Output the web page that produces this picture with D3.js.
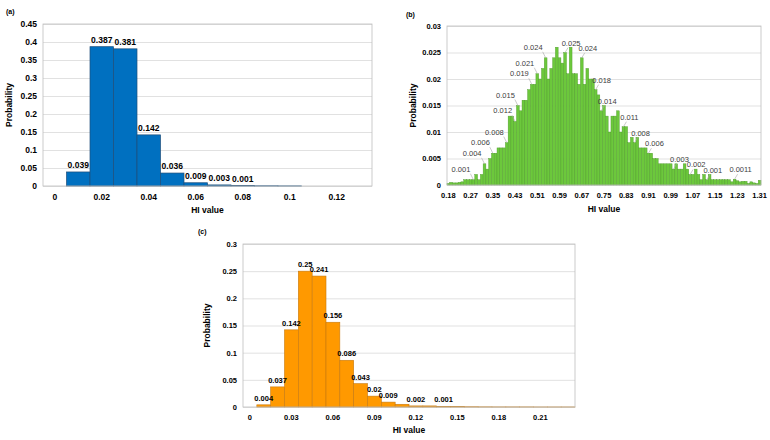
<!DOCTYPE html>
<html>
<head>
<meta charset="utf-8">
<script src="https://cdn.jsdelivr.net/npm/d3@7"></script>
<style>
  body { margin: 0; background: #fff; }
  text { font-family: "Liberation Sans", Arial, sans-serif; }
</style>
</head>
<body>
<svg id="chart" width="770" height="440"></svg>
<script>
//<data (a)>-----------------------------------//
var catsA = [0, 0.01, 0.02, 0.03, 0.04, 0.05, 0.06, 0.07, 0.08, 0.09, 0.1, 0.11, 0.12, 0.13];
var valsA = [0, 0.039, 0.387, 0.381, 0.142, 0.036, 0.009, 0.003, 0.001, 0.0006, 0.0003, 0, 0, 0];
var labelsA = [1, 2, 3, 4, 5, 6, 7, 8];
var xTicksA = ["0", "0.02", "0.04", "0.06", "0.08", "0.1", "0.12"];
var yTicksA = [0, 0.05, 0.1, 0.15, 0.2, 0.25, 0.3, 0.35, 0.4, 0.45];

//<data (b)>-----------------------------------//
var valsB = [
    0.0003, 0.0005, 0.0004, 0.0004, 0.0005, 0.0006, 0.001, 0.001, 0.001, 0.001,
    0.002, 0.001, 0.002, 0.004, 0.003, 0.005, 0.006, 0.006, 0.007, 0.007,
    0.007, 0.008, 0.013, 0.013, 0.012, 0.015, 0.014, 0.016, 0.016, 0.018,
    0.019, 0.019, 0.021, 0.020, 0.022, 0.024, 0.020, 0.022, 0.024, 0.026,
    0.024, 0.023, 0.025, 0.021, 0.026, 0.021, 0.021, 0.019, 0.024, 0.019,
    0.022, 0.020, 0.020, 0.018, 0.017, 0.014, 0.015, 0.013, 0.010, 0.013,
    0.013, 0.014, 0.010, 0.011, 0.011, 0.008, 0.009, 0.008, 0.009, 0.007,
    0.007, 0.007, 0.006, 0.006, 0.005, 0.005, 0.004, 0.004, 0.004, 0.004,
    0.004, 0.003, 0.004, 0.003, 0.003, 0.004, 0.003, 0.002, 0.002, 0.003,
    0.002, 0.001, 0.002, 0.001, 0.002, 0.001, 0.001, 0.001, 0.001, 0.001,
    0.001, 0.001, 0.0006, 0.0011, 0.0008, 0.0006, 0.0007, 0.0007, 0.0003, 0.0006,
    0.0004, 0.0003, 0.0009
];
var catsB = d3.range(valsB.length);
var labelsB = [9, 13, 16, 21, 24, 25, 30, 32, 35, 42, 48, 53, 55, 63, 67, 72, 81, 87, 93, 103];
var xTicksB = ["0.18", "0.27", "0.35", "0.43", "0.51", "0.59", "0.67", "0.75", "0.83", "0.91", "0.99", "1.07", "1.15", "1.23", "1.31"];
var yTicksB = [0, 0.005, 0.01, 0.015, 0.02, 0.025, 0.03];

//<data (c)>-----------------------------------//
var catsC = [0, 0.01, 0.02, 0.03, 0.04, 0.05, 0.06, 0.07, 0.08, 0.09, 0.1, 0.11,
    0.12, 0.13, 0.14, 0.15, 0.16, 0.17, 0.18, 0.19, 0.2, 0.21, 0.22, 0.23];
var valsC = [0, 0.004, 0.037, 0.142, 0.25, 0.241, 0.156, 0.086, 0.043, 0.02, 0.009, 0.005,
    0.002, 0.002, 0.001, 0.001, 0.0005, 0.0003, 0.0002, 0.0002, 0.0002, 0.0001, 0.0001, 0.0001];
var labelsC = [1, 2, 3, 4, 5, 6, 7, 8, 9, 10, 12, 14];
var xTicksC = ["0", "0.03", "0.06", "0.09", "0.12", "0.15", "0.18", "0.21"];
var yTicksC = [0, 0.05, 0.1, 0.15, 0.2, 0.25, 0.3];

var svg = d3.select("#chart");
svg.append("rect").attr("width", 770).attr("height", 440).attr("fill", "#fff");

//<drawPanel>----------------------------------//
function drawPanel(p) {
    var g = svg.append("g");
    var w = p.right - p.left;
    var x = d3.scaleBand().domain(p.cats).range([p.left, p.right]).padding(0);
    var y = d3.scaleLinear().domain([0, p.yMax]).range([p.bottom, p.top]);

    // grid + y labels
    var ya = g.append("g").attr("transform", "translate(" + p.left + ",0)")
        .call(d3.axisLeft(y).tickValues(p.yTicks).tickSize(-w).tickPadding(6).tickFormat(function (d) { return String(d); }));
    ya.select(".domain").remove();
    ya.selectAll("line").attr("stroke", "#d9d9d9").attr("stroke-width", 0.8);
    ya.selectAll("text").attr("fill", "#000")
        .style("font-size", p.fs + "px").style("font-weight", "bold")
        .style("font-family", "'Liberation Sans', Arial, sans-serif");

    // bars
    g.append("g").selectAll("rect")
        .data(p.vals.map(function (v, i) { return { c: p.cats[i], v: v }; }).filter(function (d) { return d.v > 0; }))
        .enter().append("rect")
        .attr("x", function (d) { return x(d.c); })
        .attr("width", x.bandwidth())
        .attr("y", function (d) { return y(d.v); })
        .attr("height", function (d) { return p.bottom - y(d.v); })
        .attr("fill", p.fill)
        .attr("stroke", p.stroke)
        .attr("stroke-width", p.sw);

    // plot border
    g.append("rect").attr("x", p.left).attr("y", p.top).attr("width", w).attr("height", p.bottom - p.top)
        .attr("fill", "none").attr("stroke", "#bfbfbf").attr("stroke-width", 0.8);

    // x labels
    var tickCats = p.cats.filter(function (c, i) { return i % p.tickStep === 0; });
    var xa = g.append("g").attr("transform", "translate(0," + p.bottom + ")")
        .call(d3.axisBottom(x).tickValues(tickCats).tickSize(0).tickPadding(p.xPad)
            .tickFormat(function (d, i) { return p.xTicks[i]; }));
    xa.select(".domain").remove();
    xa.selectAll("text").attr("fill", "#000")
        .style("font-size", p.fs + "px").style("font-weight", "bold")
        .style("font-family", "'Liberation Sans', Arial, sans-serif");

    // data labels
    var lab = g.append("g");
    p.labels.forEach(function (i) {
        var v = p.vals[i];
        var cx = x(p.cats[i]) + x.bandwidth() / 2;
        var top = y(v);
        if (p.leader) {
            var left = i < p.split;
            if (left) {
                lab.append("line")
                    .attr("x1", cx).attr("y1", top)
                    .attr("x2", cx - 3).attr("y2", top - 6)
                    .attr("stroke", "#a6a6a6").attr("stroke-width", 0.6);
                lab.append("text").attr("x", cx - 3).attr("y", top - 8)
                    .attr("text-anchor", "end")
                    .attr("fill", "#404040")
                    .style("font-size", p.lfs + "px")
                    .text(String(v));
            } else {
                lab.append("line")
                    .attr("x1", cx).attr("y1", top)
                    .attr("x2", cx + 3).attr("y2", top - 5)
                    .attr("stroke", "#a6a6a6").attr("stroke-width", 0.6);
                lab.append("text").attr("x", cx + 6).attr("y", top - 7)
                    .attr("text-anchor", "middle")
                    .attr("fill", "#404040")
                    .style("font-size", p.lfs + "px")
                    .text(String(v));
            }
        } else {
            lab.append("text").attr("x", cx).attr("y", top - 4)
                .attr("text-anchor", "middle")
                .attr("fill", "#000")
                .style("font-size", p.lfs + "px").style("font-weight", "bold")
                .text(String(v));
        }
    });

    // axis titles
    g.append("text").attr("x", (p.left + p.right) / 2).attr("y", p.bottom + p.xTitle)
        .attr("text-anchor", "middle").style("font-size", "8.5px").style("font-weight", "bold")
        .text("HI value");
    g.append("text")
        .attr("transform", "translate(" + (p.left + p.yTitle) + "," + ((p.top + p.bottom) / 2) + ") rotate(-90)")
        .attr("text-anchor", "middle").style("font-size", "8.5px").style("font-weight", "bold")
        .text("Probability");
    g.append("text").attr("x", p.tagX).attr("y", p.tagY)
        .style("font-size", "7px").style("font-weight", "bold").text(p.tag);
}

drawPanel({
    tag: "(a)", tagX: 6, tagY: 14,
    cats: catsA, vals: valsA, labels: labelsA, xTicks: xTicksA, yTicks: yTicksA, yMax: 0.45,
    left: 43, right: 372, top: 24, bottom: 186, tickStep: 2,
    fill: "#0070c0", stroke: "#1f4e79", sw: 0.7,
    fs: 8.5, lfs: 8.5, xPad: 8, xTitle: 27, yTitle: -31
});

drawPanel({
    tag: "(b)", tagX: 406, tagY: 17,
    cats: catsB, vals: valsB, labels: labelsB, xTicks: xTicksB, yTicks: yTicksB, yMax: 0.03,
    left: 447, right: 761, top: 26, bottom: 185, tickStep: 8,
    fill: "#6cc83c", stroke: "#4f9a2c", sw: 0.4,
    fs: 7.5, lfs: 7.5, xPad: 8, xTitle: 27, yTitle: -31,
    leader: true, split: 40
});

drawPanel({
    tag: "(c)", tagX: 198, tagY: 234,
    cats: catsC, vals: valsC, labels: labelsC, xTicks: xTicksC, yTicks: yTicksC, yMax: 0.3,
    left: 243, right: 575, top: 244, bottom: 407, tickStep: 3,
    fill: "#ff9900", stroke: "#c77a10", sw: 0.6,
    fs: 7.5, lfs: 7.5, xPad: 8, xTitle: 26, yTitle: -33
});
</script>
</body>
</html>
